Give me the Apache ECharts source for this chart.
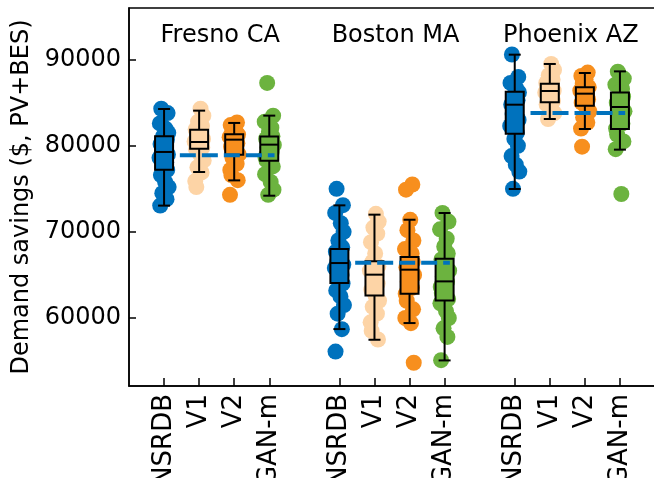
<!DOCTYPE html>
<html>
<head>
<meta charset="utf-8">
<script src="https://cdn.jsdelivr.net/npm/echarts@6/dist/echarts.min.js"></script>
<style>
  html, body { margin: 0; padding: 0; background: #fff; }
  #main { width: 654px; height: 478px; }
</style>
</head>
<body>
<div id="main"></div>
<script>
// categories and locations
const methods = ['NSRDB', 'V1', 'V2', 'GAN-m'];
const locations = ['Fresno CA', 'Boston MA', 'Phoenix AZ'];

// individual runs per location, one list per method
const fresnoPts = [
  [84300, 83800, 82600, 82000, 81500, 81100, 80700, 80200, 79800, 79300, 79000, 78600, 78100, 77600, 77200, 76600, 75800, 75200, 74500, 73800, 73050],
  [84300, 83500, 82800, 82300, 81900, 81500, 81100, 80800, 80500, 80300, 80000, 79800, 79600, 79000, 78300, 77500, 76900, 75900, 75200],
  [82700, 82400, 82000, 81600, 81300, 81000, 80800, 80600, 80300, 79900, 79400, 79000, 78600, 77900, 77200, 76600, 76000, 74300],
  [87300, 83500, 82800, 82100, 81600, 81100, 80800, 80400, 80100, 79800, 79300, 78700, 78300, 77600, 76700, 75800, 74900, 74300]
];
const bostonPts = [
  [75000, 73100, 72200, 71000, 70000, 69000, 68200, 67700, 67000, 66500, 66200, 65800, 65000, 64400, 64000, 63200, 62500, 61500, 60500, 58700, 56100],
  [72100, 71200, 70500, 69800, 68800, 67500, 66500, 66000, 65500, 65000, 64600, 64000, 63300, 62600, 62000, 61300, 60500, 59500, 58500, 57500],
  [75500, 74900, 71400, 70200, 69000, 68000, 67500, 67000, 66500, 65900, 65500, 65000, 64200, 63500, 62800, 62000, 61000, 60000, 59400, 54800],
  [72200, 71200, 70300, 69200, 68300, 67500, 66800, 66200, 65500, 64800, 64200, 63600, 62900, 62200, 61700, 60800, 60000, 58800, 57800, 55100]
];
const phoenixPts = [
  [90600, 88000, 87300, 86700, 86200, 85800, 85300, 84800, 84300, 83700, 83000, 82300, 81500, 80800, 80000, 78800, 77800, 77000, 75000],
  [89500, 88800, 88200, 87700, 87300, 87000, 86700, 86400, 86200, 85900, 85600, 85200, 84800, 84300, 83800, 83100],
  [88500, 88100, 87700, 87200, 86800, 86400, 86100, 85800, 85400, 85000, 84600, 84000, 83300, 82700, 82000, 79900],
  [88600, 87800, 87100, 86600, 86200, 85700, 85000, 84500, 84000, 83300, 82600, 82000, 81300, 80500, 79600, 74400]
];

// box stats [whisker low, q1, median, q3, whisker high]
const fresnoBox = [
  [73050, 77220, 79280, 81100, 84270],
  [76950, 79660, 80440, 81870, 84080],
  [75980, 78960, 80710, 81330, 82650],
  [74200, 78270, 80130, 81090, 83500]
];
const bostonBox = [
  [58710, 64060, 66380, 68010, 73080],
  [57470, 62620, 65030, 66580, 72000],
  [59410, 62820, 65610, 67080, 71410],
  [55070, 62040, 64250, 66880, 72190]
];
const phoenixBox = [
  [74980, 81400, 84770, 86280, 90580],
  [83110, 85040, 86360, 87210, 89500],
  [81950, 84660, 86050, 86790, 88450],
  [79550, 81950, 84500, 86200, 88640]
];

// NSRDB mean per location (dashed line)
const nsrdbMean = [78900, 66400, 83800];

const yTicks = [60000, 70000, 80000, 90000];

const colors = ['#0072BD', '#FDD4A6', '#F78F1E', '#6CB33F'];
const allPts = [fresnoPts, bostonPts, phoenixPts];
const allBox = [fresnoBox, bostonBox, phoenixBox];
const jitter = [-0.08, 0.1, -0.12, 0.04, 0.12, -0.03, 0.08, -0.1, 0.02, -0.06, 0.11, -0.13, 0.06, -0.01, 0.09, -0.09, 0.03, 0.13, -0.05, 0.07, -0.11];

const pos = (g, k) => g * 5 + k;
const tickPos = [];
locations.forEach((l, g) => methods.forEach((m, k) => tickPos.push(pos(g, k))));

const font = 'DejaVu Sans';

const scatterSeries = methods.map((m, k) => {
  const data = [];
  allPts.forEach((grp, g) => {
    grp[k].forEach((v, i) => data.push([pos(g, k) + jitter[(i + k * 3) % jitter.length], v]));
  });
  return {
    type: 'scatter', name: m, data: data, symbolSize: 16, z: 2,
    itemStyle: { color: colors[k], opacity: 1 }, silent: true
  };
});

const boxData = [];
allBox.forEach((grp, g) => grp.forEach((b, k) => boxData.push([pos(g, k)].concat(b, [k]))));

const boxSeries = {
  type: 'custom', z: 3, silent: true,
  data: boxData,
  encode: { x: 0, y: [1, 2, 3, 4, 5] },
  renderItem: function (params, api) {
    const x = api.value(0);
    const lo = api.coord([x, api.value(1)]);
    const q1 = api.coord([x, api.value(2)]);
    const md = api.coord([x, api.value(3)]);
    const q3 = api.coord([x, api.value(4)]);
    const hi = api.coord([x, api.value(5)]);
    const hw = 9, cw = 6;
    const ls = { stroke: '#000', lineWidth: 2 };
    return {
      type: 'group',
      children: [
        { type: 'line', shape: { x1: lo[0], y1: lo[1], x2: hi[0], y2: hi[1] }, style: ls },
        { type: 'line', shape: { x1: lo[0] - cw, y1: lo[1], x2: lo[0] + cw, y2: lo[1] }, style: ls },
        { type: 'line', shape: { x1: hi[0] - cw, y1: hi[1], x2: hi[0] + cw, y2: hi[1] }, style: ls },
        { type: 'rect', shape: { x: q3[0] - hw, y: q3[1], width: 2 * hw, height: q1[1] - q3[1] },
          style: { fill: colors[api.value(6)], stroke: '#000', lineWidth: 2 } },
        { type: 'line', shape: { x1: md[0] - hw, y1: md[1], x2: md[0] + hw, y2: md[1] }, style: ls }
      ]
    };
  }
};

const meanSeries = nsrdbMean.map((v, g) => ({
  type: 'line', z: 4, silent: true, symbol: 'none',
  data: [[pos(g, 0) + 0.45, v], [pos(g, 3) + 0.15, v]],
  lineStyle: { color: '#0072BD', width: 4, type: [16, 6], cap: 'butt' }
}));

// location names placed in data coordinates
const titleSeries = {
  type: 'custom', z: 5, silent: true,
  data: locations.map((l, g) => [pos(g, 0) + 1.6, 92800, g]),
  encode: { x: 0, y: 1 },
  renderItem: function (params, api) {
    const p = api.coord([api.value(0), api.value(1)]);
    return {
      type: 'text', x: p[0], y: p[1],
      style: {
        text: locations[api.value(2)], fill: '#000', fontSize: 24, fontFamily: font,
        align: 'center', verticalAlign: 'middle'
      }
    };
  }
};

const myChart = echarts.init(document.getElementById('main'));
myChart.setOption({
  animation: false,
  grid: {
    left: 129, right: -1, top: 8, bottom: 92, outerBoundsMode: 'none',
    show: true, borderColor: '#000', borderWidth: 1.5
  },
  xAxis: {
    type: 'value', min: -1, max: 14,
    splitLine: { show: false },
    axisLine: { onZero: false, lineStyle: { color: '#000', width: 1.5 } },
    axisTick: { inside: true, length: 8, customValues: tickPos, lineStyle: { color: '#000', width: 1.5 } },
    axisLabel: {
      customValues: tickPos, rotate: 90, margin: 8,
      fontSize: 26, fontFamily: font, color: '#000',
      formatter: v => methods[((Math.round(v) % 5) + 5) % 5]
    }
  },
  yAxis: {
    type: 'value', min: 52100, max: 96000,
    name: 'Demand savings ($, PV+BES)', nameLocation: 'middle', nameGap: 86,
    nameTextStyle: { fontSize: 24, fontFamily: font, color: '#000' },
    splitLine: { show: false },
    axisLine: { onZero: false, lineStyle: { color: '#000', width: 1.5 } },
    axisTick: { inside: true, length: 7, customValues: yTicks, lineStyle: { color: '#000', width: 1.5 } },
    axisLabel: {
      customValues: yTicks, margin: 8,
      fontSize: 24, fontFamily: font, color: '#000',
      formatter: v => String(v)
    }
  },
  series: scatterSeries.concat([boxSeries], meanSeries, [titleSeries])
});
</script>
</body>
</html>
